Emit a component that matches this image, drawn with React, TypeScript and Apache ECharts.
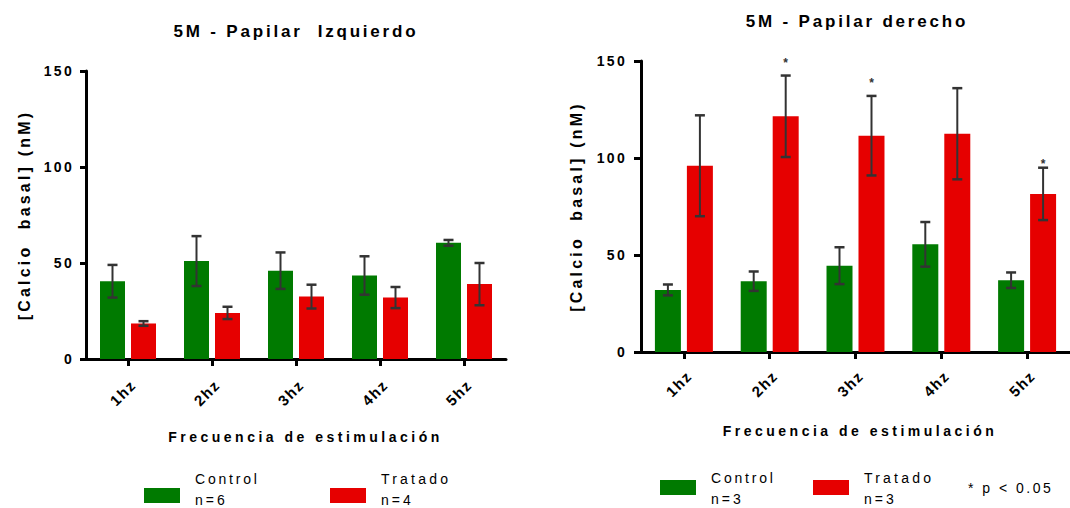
import React, { useEffect, useRef } from 'react';
import * as echarts from 'echarts';

const categories = ['1hz', '2hz', '3hz', '4hz', '5hz'];
const yTicks = [0, 50, 100, 150];
const seriesNames = ['Control', 'Tratado'];
const titles = ['5M - Papilar  Izquierdo', '5M - Papilar derecho'];
const yName = '[Calcio  basal] (nM)';
const xName = 'Frecuencia de estimulación';
const noteText = '* p < 0.05';

const leftControl = [40.5, 51, 46, 43.5, 60.5];
const leftControlErr = [8.5, 13, 9.5, 10, 1.5];
const leftTreated = [18.5, 24, 32.5, 32, 39];
const leftTreatedErr = [1.2, 3.2, 6.2, 5.5, 11];
const leftN = ['n=6', 'n=4'];

const rightControl = [32, 36.5, 44.5, 55.5, 37];
const rightControlErr = [2.8, 5, 9.5, 11.5, 4];
const rightTreated = [96, 121.5, 111.5, 112.5, 81.5];
const rightTreatedErr = [26, 21, 20.5, 23.5, 13.5];
const rightMarks = ['', '*', '*', '', '*'];
const rightMarkLevel = [null, 150.5, 140, null, 98.5];
const rightN = ['n=3', 'n=3'];

const GREEN = '#007a00';
const RED = '#e60000';
const FONT = '"Liberation Sans", Arial, Helvetica, sans-serif';

const spacing: Record<string, number> = {};
titles.forEach((t) => (spacing[t] = 2.8));
spacing[xName] = 3.5;
spacing[yName] = 3.2;
yTicks.forEach((t) => (spacing[String(t)] = 2.3));
categories.forEach((c) => (spacing[c] = 1.5));
spacing['Control'] = 2.8;
spacing['Tratado'] = 3.2;
[...leftN, ...rightN].forEach((n) => (spacing[n] = 3));
spacing[noteText] = 2.5;

function errorRenderer(offset: number, capHalf: number, marks?: string[], levels?: (number | null)[]) {
  return (params: any, api: any) => {
    const i = api.value(0);
    const m = api.value(1);
    const e = api.value(2);
    const p1 = api.coord([i, m + e]);
    const p2 = api.coord([i, m - e]);
    const x = p1[0] + offset;
    const st = { stroke: '#333333', lineWidth: 2 };
    const children: any[] = [
      { type: 'line', shape: { x1: x, y1: p1[1], x2: x, y2: p2[1] }, style: st },
      { type: 'line', shape: { x1: x - capHalf, y1: p1[1], x2: x + capHalf, y2: p1[1] }, style: { ...st, lineWidth: 2.5 } },
      { type: 'line', shape: { x1: x - capHalf, y1: p2[1], x2: x + capHalf, y2: p2[1] }, style: { ...st, lineWidth: 2.5 } },
    ];
    if (marks && levels && marks[params.dataIndex]) {
      const lv = levels[params.dataIndex] as number;
      const ps = api.coord([i, lv]);
      children.push({
        type: 'text',
        style: {
          text: marks[params.dataIndex],
          x,
          y: ps[1] + 3,
          align: 'center',
          verticalAlign: 'middle',
          font: `bold 12px ${FONT}`,
          fill: '#333333',
        },
      });
    }
    return { type: 'group', children };
  };
}

function xAxisCfg(grid: number, margin: number, gap: number, padLeft: number) {
  return {
    gridIndex: grid,
    type: 'category',
    data: categories,
    axisLine: { show: true, lineStyle: { color: '#000', width: 3 } },
    axisTick: { show: true, alignWithLabel: true, length: 7, lineStyle: { color: '#000', width: 3 } },
    axisLabel: {
      rotate: 45,
      margin,
      verticalAlign: 'top',
      color: '#000',
      fontWeight: 'bold',
      fontSize: 15,
      fontFamily: FONT,
    },
    splitLine: { show: false },
    name: xName,
    nameLocation: 'middle',
    nameGap: gap,
    nameTextStyle: { color: '#000', fontWeight: 'bold', fontSize: 14, fontFamily: FONT, padding: [0, 0, 0, padLeft] },
  };
}

function yAxisCfg(grid: number, fs: number, tickLen: number, labelMargin: number, gap: number) {
  return {
    gridIndex: grid,
    type: 'value',
    min: yTicks[0],
    max: yTicks[yTicks.length - 1],
    interval: yTicks[1] - yTicks[0],
    axisLine: { show: true, lineStyle: { color: '#000', width: 3 } },
    axisTick: { show: true, length: tickLen, lineStyle: { color: '#000', width: 3 } },
    axisLabel: { margin: labelMargin, color: '#000', fontWeight: 'bold', fontSize: fs, fontFamily: FONT },
    splitLine: { show: false },
    name: yName,
    nameLocation: 'middle',
    nameGap: gap,
    nameTextStyle: { color: '#000', fontWeight: 'bold', fontSize: 16, fontFamily: FONT },
  };
}

function barSeries(name: string, data: number[], color: string, axis: number, width: number, gap: string) {
  return {
    name,
    type: 'bar',
    xAxisIndex: axis,
    yAxisIndex: axis,
    data,
    barWidth: width,
    barGap: gap,
    silent: true,
    itemStyle: { color },
  };
}

function errSeries(mean: number[], err: number[], axis: number, offset: number, marks?: string[], levels?: (number | null)[]) {
  return {
    type: 'custom',
    xAxisIndex: axis,
    yAxisIndex: axis,
    silent: true,
    z: 5,
    encode: { x: 0, y: 1 },
    data: categories.map((_, i) => [i, mean[i], err[i]]),
    renderItem: errorRenderer(offset, 5, marks, levels),
  };
}

function legendBlock(x0: number, y0: number, textY: number, nY: number, names: string[], ns: string[], step: number) {
  const items: any[] = [];
  const colors = [GREEN, RED];
  names.forEach((nm, k) => {
    const x = x0 + k * step;
    items.push({ type: 'rect', shape: { x, y: y0, width: 36, height: 15 }, style: { fill: colors[k] } });
    items.push({
      type: 'text',
      style: { text: nm, x: x + 51, y: textY, align: 'left', verticalAlign: 'middle', font: `14px ${FONT}`, fill: '#000' },
    });
    items.push({
      type: 'text',
      style: { text: ns[k], x: x + 51, y: nY, align: 'left', verticalAlign: 'middle', font: `14px ${FONT}`, fill: '#000' },
    });
  });
  return items;
}

export default function App() {
  const ref = useRef<HTMLDivElement>(null);
  useEffect(() => {
    if (!ref.current) return;
    const el = ref.current;
    const chart = echarts.init(el, undefined, { renderer: 'svg' });
    const option: any = {
      animation: false,
      backgroundColor: '#ffffff',
      grid: [
        { left: 86, top: 71, width: 420, height: 288 },
        { left: 641, top: 61, width: 430, height: 291 },
      ],
      xAxis: [xAxisCfg(0, 18, 71, 19), xAxisCfg(1, 16, 72, 9)],
      yAxis: [yAxisCfg(0, 14, 6, 12, 54), yAxisCfg(1, 14, 7, 14, 57)],
      series: [
        barSeries(seriesNames[0], leftControl, GREEN, 0, 25, '24%'),
        barSeries(seriesNames[1], leftTreated, RED, 0, 25, '24%'),
        barSeries(seriesNames[0], rightControl, GREEN, 1, 26, '23%'),
        barSeries(seriesNames[1], rightTreated, RED, 1, 26, '23%'),
        errSeries(leftControl, leftControlErr, 0, -15.5),
        errSeries(leftTreated, leftTreatedErr, 0, 15.5),
        errSeries(rightControl, rightControlErr, 1, -16),
        errSeries(rightTreated, rightTreatedErr, 1, 16, rightMarks, rightMarkLevel),
      ],
      graphic: [
        {
          type: 'text',
          style: { text: titles[0], x: 296, y: 31, align: 'center', verticalAlign: 'middle', font: `bold 17px ${FONT}`, fill: '#000' },
        },
        {
          type: 'text',
          style: { text: titles[1], x: 857, y: 21, align: 'center', verticalAlign: 'middle', font: `bold 17px ${FONT}`, fill: '#000' },
        },
        ...legendBlock(144, 488, 479, 500, seriesNames, leftN, 186),
        ...legendBlock(660, 480, 478, 499, seriesNames, rightN, 153),
        {
          type: 'text',
          style: { text: noteText, x: 968, y: 488, align: 'left', verticalAlign: 'middle', font: `14px ${FONT}`, fill: '#000' },
        },
      ],
    };
    chart.setOption(option);
    const applySpacing = () => {
      el.querySelectorAll('text').forEach((t) => {
        const s = (t.textContent || '').trim();
        const ls = spacing[s];
        if (ls) (t as SVGTextElement).style.letterSpacing = ls + 'px';
      });
    };
    chart.on('finished', applySpacing);
    applySpacing();
    const tid = setTimeout(applySpacing, 50);
    return () => {
      clearTimeout(tid);
      chart.dispose();
    };
  }, []);
  return <div ref={ref} style={{ position: 'fixed', left: 0, top: 0, width: 1070, height: 508, background: '#fff' }} />;
}
